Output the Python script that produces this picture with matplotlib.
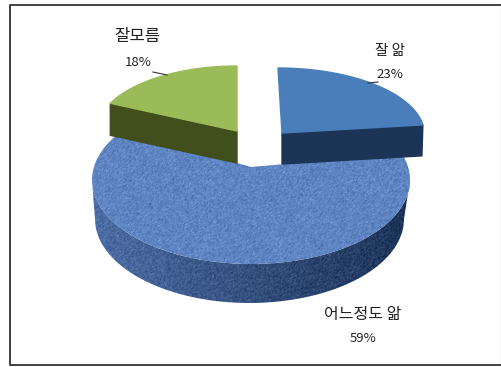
import numpy as np
import matplotlib.pyplot as plt
from matplotlib.patches import PathPatch
from matplotlib.path import Path

plt.rcParams['font.family'] = ['Noto Sans CJK KR', 'DejaVu Sans']

W, H = 502, 367

labels = ['잘 앎', '어느정도 앎', '잘모름']
shares = [23, 59, 18]

top_blue = '#4a7ebb'
side_blue = '#1c3557'
top_green = '#9bbb59'
side_green = '#414f1c'


def arc(cx, cy, a, b, t0, t1, n=120):
    # angles run clockwise from 12 o'clock, y axis points down
    t = np.radians(np.linspace(t0, t1, n))
    return cx + a*np.sin(t), cy - b*np.cos(t)


def textured(ax, xs, ys, base, dark, seed):
    # mottled fill for the big slice, clipped to its outline
    rng = np.random.default_rng(seed)
    x0, x1 = int(xs.min()), int(xs.max()) + 1
    y0, y1 = int(ys.min()), int(ys.max()) + 1
    h, w = y1 - y0, x1 - x0
    noise = rng.normal(0, 1, (h, w))
    noise = (noise + np.roll(noise, 1, 0) + np.roll(noise, 1, 1)) / 3
    ramp = np.linspace(0, 1, w)[None, :]
    rgb = np.zeros((h, w, 3))
    for i in range(3):
        rgb[:, :, i] = base[i] + (dark[i] - base[i])*ramp + noise*0.05
    im = ax.imshow(np.clip(rgb, 0, 1), extent=(x0, x1, y1, y0), aspect='auto', zorder=2, interpolation='bilinear')
    im.set_clip_path(PathPatch(Path(np.column_stack([xs, ys])), transform=ax.transData))


fig = plt.figure(figsize=(W/100, H/100), dpi=100)
ax = fig.add_axes([0, 0, 1, 1])
ax.set_xlim(0, W)
ax.set_ylim(H, 0)
ax.axis('off')

# frame: dark on three sides, faint on the right
ax.plot([501.5, 501.5], [4.5, 365], color='#cccccc', lw=1)
ax.plot([502, 10, 10, 502], [4.5, 4.5, 365, 365], color='#333333', lw=1.3)

sweep = np.array(shares)*3.6
ends = np.cumsum(sweep)

# big slice: rim first, then the top face; the tip sits behind the ellipse
# centre, so its arc reaches a little past the slice angles on the far side
cx, cy, a, b, depth = 251, 180, 159, 84, 39
tip_x, tip_y = 251, 167
far_side = 11
top_x, top_y = arc(cx, cy, a, b, ends[0] - far_side, ends[1] + far_side)
rim_x, rim_y = arc(cx, cy, a, b, 90, 270)
low_x, low_y = arc(cx - 1.5, cy + depth, a - 4.5, b, 270, 90)
textured(ax, np.r_[rim_x, low_x], np.r_[rim_y, low_y],
         (0.30, 0.43, 0.65), (0.11, 0.20, 0.34), 3)
textured(ax, np.r_[tip_x, top_x], np.r_[tip_y, top_y],
         (0.37, 0.52, 0.76), (0.37, 0.52, 0.76), 5)

# exploded slice on the right
cx, cy, a, b, depth = 282, 133, 142, 65, 31
xs, ys = arc(cx, cy, a, b, 0, ends[0])
xs = xs - 4*(1 - np.linspace(0, 1, xs.size))
ax.fill([cx, xs[-1], xs[-1] - 1, cx], [cy, ys[-1], ys[-1] + depth, cy + depth], color=side_blue, zorder=3)
ax.fill(np.r_[cx, xs], np.r_[cy, ys], color=top_blue, zorder=4)

# exploded slice on the left
cx, cy, a, b, depth = 237, 131, 140, 65, 32
xs, ys = arc(cx, cy, a, b, ends[1], 360)
ax.fill([cx, xs[0], xs[0], cx], [cy, ys[0], ys[0] + depth, cy + depth], color=side_green, zorder=3)
ax.fill(np.r_[cx, xs], np.r_[cy, ys], color=top_green, zorder=4)

# leader lines
ax.plot([368, 378], [83, 82], color='#333333', lw=0.8, zorder=5)
ax.plot([153, 167], [72, 75], color='#333333', lw=0.8, zorder=5)

txt = dict(ha='center', va='center', color='#222222', zorder=6)
ax.text(390, 51, labels[0], fontsize=10.5, **txt)
ax.text(390, 74, f'{shares[0]}%', fontsize=9.5, **txt)
ax.text(363, 314, labels[1], fontsize=11.5, **txt)
ax.text(363, 338, f'{shares[1]}%', fontsize=9.5, **txt)
ax.text(137, 37, labels[2], fontsize=12, **txt)
ax.text(138, 63, f'{shares[2]}%', fontsize=9.5, **txt)

fig.savefig('out.png', dpi=100)
